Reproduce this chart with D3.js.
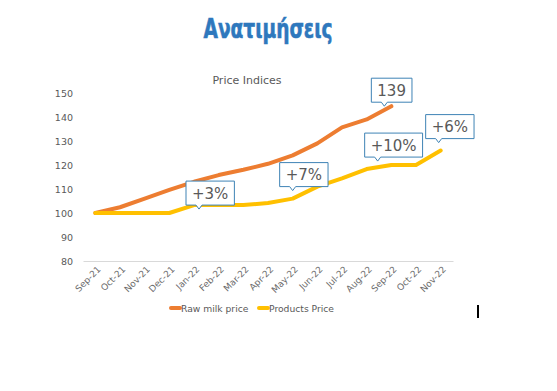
<!DOCTYPE html>
<html>
<head>
<meta charset="utf-8">
<script src="https://cdn.jsdelivr.net/npm/d3@7"></script>
<style>
  body { margin: 0; background: #fff; }
  text { font-family: "DejaVu Sans", Verdana, sans-serif; }
</style>
</head>
<body>
<script>
var months = ["Sep-21", "Oct-21", "Nov-21", "Dec-21", "Jan-22", "Feb-22", "Mar-22", "Apr-22",
              "May-22", "Jun-22", "Jul-22", "Aug-22", "Sep-22", "Oct-22", "Nov-22"];
var rawMilk = [100, 102.4, 106, 109.6, 113, 115.8, 118, 120.5, 124, 129, 135.7, 139, 144.5];
var products = [100, 100, 100, 100, 103.3, 103.3, 103.3, 104.2, 106, 111, 114.4, 118.3, 120, 120, 126];
var yTicks = [80, 90, 100, 110, 120, 130, 140, 150];
var seriesNames = ["Raw milk price", "Products Price"];
var callouts = [
  {text: "+3%", series: 1, month: "Jan-22"},
  {text: "+7%", series: 1, month: "May-22"},
  {text: "+10%", series: 1, month: "Aug-22"},
  {text: "+6%", series: 1, month: "Nov-22"},
  {text: "139", series: 0, month: "Sep-22"}
];

var colors = ["#ED7D31", "#FFC000"];
var width = 557, height = 391;

var svg = d3.select("body").append("svg")
  .attr("width", width)
  .attr("height", height);

// page heading
svg.append("text")
  .attr("x", 268).attr("y", 38)
  .attr("text-anchor", "middle")
  .style("font-family", "'DejaVu Sans', sans-serif")
  .style("font-weight", "bold")
  .style("font-size", "26px")
  .attr("fill", "#2E78BD")
  .attr("stroke", "#2E78BD")
  .attr("stroke-width", 0.6)
  .attr("textLength", 129)
  .attr("lengthAdjust", "spacingAndGlyphs")
  .text("Ανατιμήσεις");

svg.append("text")
  .attr("x", 247).attr("y", 84)
  .attr("text-anchor", "middle")
  .style("font-size", "11px")
  .attr("fill", "#595959")
  .text("Price Indices");

var x = d3.scaleBand().domain(months).range([83, 453]);
var y = d3.scaleLinear().domain([80, 150]).range([261, 93]);
var cx = function(m) { return x(m) + x.bandwidth() / 2; };

// y axis labels
svg.append("g")
  .selectAll("text")
  .data(yTicks)
  .enter().append("text")
  .attr("x", 73)
  .attr("y", function(d) { return y(d) + 3.5; })
  .attr("text-anchor", "end")
  .style("font-size", "9.5px")
  .attr("fill", "#595959")
  .text(function(d) { return d; });

// x axis
var xAxis = svg.append("g")
  .attr("transform", "translate(0," + y(80) + ")")
  .call(d3.axisBottom(x).tickSize(0).tickPadding(0));
xAxis.select(".domain").attr("stroke", "#d9d9d9").attr("stroke-width", 1);
xAxis.selectAll("text")
  .attr("fill", "#6b6b6b")
  .style("font-size", "9px")
  .style("font-family", "'DejaVu Sans', sans-serif")
  .attr("text-anchor", "end")
  .attr("dy", 0)
  .attr("transform", "translate(6,9) rotate(-45)");

var line = d3.line()
  .x(function(d, i) { return cx(months[i]); })
  .y(function(d) { return y(d); });

[rawMilk, products].forEach(function(s, k) {
  svg.append("path")
    .datum(s)
    .attr("fill", "none")
    .attr("stroke", colors[k])
    .attr("stroke-width", 4)
    .attr("stroke-linejoin", "round")
    .attr("stroke-linecap", "round")
    .attr("d", line);
});

// callouts
var nudge = {"+3%": [5, 4], "+7%": [0, -8], "+10%": [11, -8], "+6%": [-2, -8], "139": [-7, 0]};
callouts.forEach(function(c) {
  var s = c.series === 0 ? rawMilk : products;
  var v = s[months.indexOf(c.month)];
  var tipX = cx(c.month) + nudge[c.text][0];
  var tipY = y(v) + nudge[c.text][1];
  var g = svg.append("g");
  var t = g.append("text")
    .style("font-size", "15px")
    .attr("fill", "#595959")
    .text(c.text);
  var w = t.node().getComputedTextLength() + 12;
  var h = 24;
  var left = tipX - 13, bottom = tipY - 4, top = bottom - h;
  var p = [[left, top], [left + w, top], [left + w, bottom], [tipX + 3, bottom],
           [tipX, tipY], [tipX - 3, bottom], [left, bottom]];
  g.insert("path", "text")
    .attr("d", "M" + p.join("L") + "Z")
    .attr("fill", "#fff")
    .attr("stroke", "#3E83B5")
    .attr("stroke-width", 1);
  t.attr("x", left + w / 2).attr("y", bottom - 6.5).attr("text-anchor", "middle");
});

// legend
var legend = svg.append("g").attr("transform", "translate(171,308)");
var lx = [0, 88];
seriesNames.forEach(function(n, k) {
  legend.append("line")
    .attr("x1", lx[k]).attr("x2", lx[k] + 9)
    .attr("stroke", colors[k]).attr("stroke-width", 4)
    .attr("stroke-linecap", "round");
  legend.append("text")
    .attr("x", lx[k] + 10).attr("y", 3.5)
    .style("font-size", "9.2px")
    .attr("fill", "#595959")
    .text(n);
});

// stray cursor mark
svg.append("rect")
  .attr("x", 477).attr("y", 305).attr("width", 2).attr("height", 13)
  .attr("fill", "#000");
</script>
</body>
</html>
